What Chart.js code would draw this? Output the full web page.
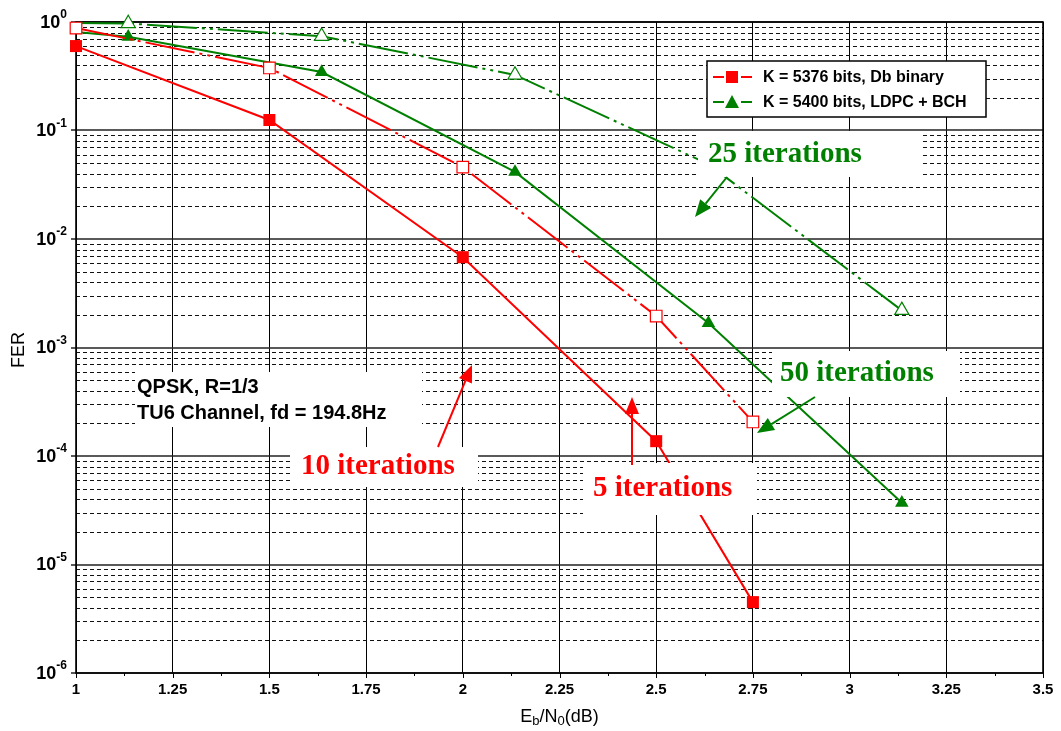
<!DOCTYPE html>
<html>
<head>
<meta charset="utf-8">
<script src="https://cdn.jsdelivr.net/npm/chart.js@4.4.1/dist/chart.umd.min.js"></script>
<style>
    html, body { margin: 0; padding: 0; background: #fff; }
    canvas { display: block; }
</style>
</head>
<body>
<canvas id="ferChart" width="1061" height="731"></canvas>
<script>
// Eb/N0 points (dB)
const ebnoDb = [1, 1.5, 2, 2.5, 2.75];
const ebnoLdpc = [1, 1.135, 1.635, 2.135, 2.635, 3.135];

// FER values
const ferDbSolid = [0.60, 0.125, 0.0068, 1.37e-4, 4.5e-6];
const ferDbDashed = [0.88, 0.377, 0.046, 0.00195, 2.06e-4];
const ferLdpcSolid = [0.81, 0.73, 0.346, 0.0415, 0.00168, 3.7e-5];
const ferLdpcDashed = [0.98, 0.97, 0.74, 0.325, 0.049, 0.0022];

// Axis ticks
const xTicks = [1, 1.25, 1.5, 1.75, 2, 2.25, 2.5, 2.75, 3, 3.25, 3.5];
const xTickLabels = ['1', '1.25', '1.5', '1.75', '2', '2.25', '2.5', '2.75', '3', '3.25', '3.5'];
const yDecades = [1, 1e-1, 1e-2, 1e-3, 1e-4, 1e-5, 1e-6];
const yExponents = ['0', '-1', '-2', '-3', '-4', '-5', '-6'];
const yMinorSteps = [2, 3, 4, 5, 6, 7, 8, 9];

const legendLabels = ['K = 5376 bits, Db binary', 'K = 5400 bits, LDPC + BCH'];

const RED = '#ff0000';
const GREEN = '#008000';
const SANS = '"Liberation Sans", Arial, sans-serif';
const SERIF = '"Liberation Serif", "Times New Roman", serif';

function toPoints(xs, ys) {
    return xs.map((x, i) => ({ x: x, y: ys[i] }));
}

// Draw an arrow with a filled head
function drawArrow(ctx, x0, y0, x1, y1, color) {
    const ang = Math.atan2(y1 - y0, x1 - x0);
    const len = 17, half = 7;
    const bx = x1 - len * Math.cos(ang);
    const by = y1 - len * Math.sin(ang);
    ctx.strokeStyle = color;
    ctx.fillStyle = color;
    ctx.lineWidth = 2;
    ctx.setLineDash([]);
    ctx.beginPath();
    ctx.moveTo(x0, y0);
    ctx.lineTo(bx, by);
    ctx.stroke();
    ctx.beginPath();
    ctx.moveTo(x1, y1);
    ctx.lineTo(bx - half * Math.sin(ang), by + half * Math.cos(ang));
    ctx.lineTo(bx + half * Math.sin(ang), by - half * Math.cos(ang));
    ctx.closePath();
    ctx.fill();
}

// Grid, frame and axis labels
const gridPlugin = {
    id: 'ferGrid',
    beforeDatasetsDraw(chart) {
        const { ctx, chartArea: a, scales: { x, y } } = chart;
        ctx.save();

        // dashed minor lines
        ctx.strokeStyle = '#111';
        ctx.lineWidth = 1;
        ctx.setLineDash([4, 3]);
        yDecades.slice(1).forEach(dec => {
            yMinorSteps.forEach(m => {
                const py = Math.round(y.getPixelForValue(dec * m)) + 0.5;
                ctx.beginPath();
                ctx.moveTo(a.left, py);
                ctx.lineTo(a.right, py);
                ctx.stroke();
            });
        });

        // decade lines
        ctx.setLineDash([]);
        ctx.strokeStyle = '#222';
        ctx.lineWidth = 1.6;
        yDecades.forEach(dec => {
            const py = Math.round(y.getPixelForValue(dec));
            ctx.beginPath();
            ctx.moveTo(a.left - 5, py);
            ctx.lineTo(a.right, py);
            ctx.stroke();
        });

        // frame
        ctx.strokeStyle = '#000';
        ctx.lineWidth = 1.6;
        ctx.strokeRect(a.left, a.top, a.right - a.left, a.bottom - a.top);

        // x tick marks
        ctx.lineWidth = 1;
        xTicks.forEach((v, i) => {
            const px = Math.round(x.getPixelForValue(v)) + 0.5;
            ctx.beginPath();
            ctx.moveTo(px, a.bottom);
            ctx.lineTo(px, a.bottom + 5);
            ctx.stroke();
            if (i < xTicks.length - 1) {
                const pm = Math.round(x.getPixelForValue((v + xTicks[i + 1]) / 2)) + 0.5;
                ctx.beginPath();
                ctx.moveTo(pm, a.bottom);
                ctx.lineTo(pm, a.bottom + 3);
                ctx.stroke();
            }
        });
        ctx.restore();
    },
    afterDraw(chart) {
        const { ctx, chartArea: a, scales: { x, y } } = chart;
        ctx.save();
        ctx.fillStyle = '#000';

        // x tick labels
        ctx.font = 'bold 15px ' + SANS;
        ctx.textAlign = 'center';
        ctx.textBaseline = 'middle';
        xTicks.forEach((v, i) => {
            ctx.fillText(xTickLabels[i], x.getPixelForValue(v), a.bottom + 17);
        });

        // y tick labels 10^n
        yDecades.forEach((dec, i) => {
            const py = y.getPixelForValue(dec);
            ctx.textAlign = 'right';
            ctx.font = 'bold 12px ' + SANS;
            const ew = ctx.measureText(yExponents[i]).width;
            ctx.fillText(yExponents[i], a.left - 9, py - 7);
            ctx.font = 'bold 18px ' + SANS;
            ctx.fillText('10', a.left - 9 - ew, py + 1);
        });

        // axis titles
        ctx.font = '18px ' + SANS;
        ctx.textAlign = 'center';
        ctx.save();
        ctx.translate(19, 350);
        ctx.rotate(-Math.PI / 2);
        ctx.fillText('FER', 0, 0);
        ctx.restore();

        const parts = [['E', 18, 0], ['b', 13, 4], ['/N', 18, 0], ['0', 13, 4], ['(dB)', 18, 0]];
        let total = 0;
        parts.forEach(p => { ctx.font = p[1] + 'px ' + SANS; total += ctx.measureText(p[0]).width; });
        let cx = (a.left + a.right) / 2 - total / 2;
        ctx.textAlign = 'left';
        parts.forEach(p => {
            ctx.font = p[1] + 'px ' + SANS;
            ctx.fillText(p[0], cx, 717 + p[2]);
            cx += ctx.measureText(p[0]).width;
        });
        ctx.restore();
    }
};

// Legend, text boxes and arrows on top of the curves
const notePlugin = {
    id: 'ferNotes',
    afterDatasetsDraw(chart) {
        const ctx = chart.ctx;
        ctx.save();
        ctx.setLineDash([]);

        const boxes = [
            { r: [698, 131, 225, 46], text: ['25 iterations'], tx: 708, ty: [155], color: GREEN, font: 'bold 29px ' + SERIF },
            { r: [772, 351, 188, 46], text: ['50 iterations'], tx: 780, ty: [374], color: GREEN, font: 'bold 29px ' + SERIF },
            { r: [290, 447, 188, 40], text: ['10 iterations'], tx: 301, ty: [467], color: RED, font: 'bold 29px ' + SERIF },
            { r: [583, 463, 174, 52], text: ['5 iterations'], tx: 593, ty: [489], color: RED, font: 'bold 29px ' + SERIF },
            { r: [135, 372, 287, 55], text: ['QPSK, R=1/3', 'TU6 Channel, fd = 194.8Hz'], tx: 137, ty: [387, 413], color: '#000', font: 'bold 20px ' + SANS }
        ];
        boxes.forEach(b => {
            ctx.fillStyle = '#fff';
            ctx.fillRect(b.r[0], b.r[1], b.r[2], b.r[3]);
            ctx.fillStyle = b.color;
            ctx.font = b.font;
            ctx.textAlign = 'left';
            ctx.textBaseline = 'middle';
            b.text.forEach((t, i) => ctx.fillText(t, b.tx, b.ty[i]));
        });

        drawArrow(ctx, 727, 177, 695, 217, GREEN);
        drawArrow(ctx, 815, 397, 757, 433, GREEN);
        drawArrow(ctx, 438, 447, 472, 365, RED);
        drawArrow(ctx, 632, 465, 632, 397, RED);

        // legend
        ctx.fillStyle = '#fff';
        ctx.fillRect(707, 61, 279, 56);
        ctx.strokeStyle = '#000';
        ctx.lineWidth = 1.5;
        ctx.strokeRect(707, 61, 279, 56);
        const rows = [77, 102];
        const colors = [RED, GREEN];
        rows.forEach((ry, i) => {
            ctx.strokeStyle = colors[i];
            ctx.fillStyle = colors[i];
            ctx.lineWidth = 2;
            ctx.beginPath();
            ctx.moveTo(713, ry); ctx.lineTo(724, ry);
            ctx.moveTo(741, ry); ctx.lineTo(752, ry);
            ctx.stroke();
            if (i === 0) {
                ctx.fillRect(726, ry - 6, 12, 12);
            } else {
                ctx.beginPath();
                ctx.moveTo(732, ry - 7);
                ctx.lineTo(739, ry + 6);
                ctx.lineTo(725, ry + 6);
                ctx.closePath();
                ctx.fill();
            }
            ctx.fillStyle = '#000';
            ctx.font = 'bold 16px ' + SANS;
            ctx.textAlign = 'left';
            ctx.textBaseline = 'middle';
            ctx.fillText(legendLabels[i], 763, ry + 1);
        });
        ctx.restore();
    }
};

const dashPattern = [50, 5, 3, 5, 3, 5];

new Chart(document.getElementById('ferChart'), {
    type: 'line',
    data: {
        datasets: [
            {
                label: legendLabels[0],
                data: toPoints(ebnoDb, ferDbSolid),
                borderColor: RED,
                backgroundColor: RED,
                borderWidth: 2,
                pointStyle: 'rect',
                pointRadius: 8.5,
                pointBorderWidth: 0,
                pointBackgroundColor: RED
            },
            {
                label: legendLabels[0] + ' (dashed)',
                data: toPoints(ebnoDb, ferDbDashed),
                borderColor: RED,
                borderWidth: 2,
                borderDash: dashPattern,
                pointStyle: 'rect',
                pointRadius: 8.2,
                pointBorderWidth: 1.2,
                pointBorderColor: RED,
                pointBackgroundColor: '#fff'
            },
            {
                label: legendLabels[1],
                data: toPoints(ebnoLdpc, ferLdpcSolid),
                borderColor: GREEN,
                borderWidth: 2,
                pointStyle: 'triangle',
                pointRadius: [0, 7.8, 7.8, 7.8, 7.8, 7.8],
                pointBorderWidth: 0,
                pointBackgroundColor: GREEN
            },
            {
                label: legendLabels[1] + ' (dashed)',
                data: toPoints(ebnoLdpc, ferLdpcDashed),
                borderColor: GREEN,
                borderWidth: 2,
                borderDash: dashPattern,
                pointStyle: 'triangle',
                pointRadius: [0, 8.2, 8.2, 8.2, 8.2, 8.2],
                pointBorderWidth: 1.2,
                pointBorderColor: GREEN,
                pointBackgroundColor: '#fff'
            }
        ]
    },
    options: {
        responsive: false,
        devicePixelRatio: 1,
        animation: false,
        clip: false,
        layout: { padding: { left: 76, right: 18, top: 22, bottom: 58 } },
        plugins: {
            legend: { display: false },
            tooltip: { enabled: false }
        },
        scales: {
            x: {
                type: 'linear',
                min: 1,
                max: 3.5,
                afterBuildTicks: scale => { scale.ticks = xTicks.map(v => ({ value: v })); },
                ticks: { display: false },
                grid: { color: '#000', lineWidth: 1, drawTicks: false },
                border: { display: false }
            },
            y: {
                type: 'logarithmic',
                min: 1e-6,
                max: 1,
                ticks: { display: false },
                grid: { display: false, drawTicks: false },
                border: { display: false }
            }
        }
    },
    plugins: [gridPlugin, notePlugin]
});
</script>
</body>
</html>
